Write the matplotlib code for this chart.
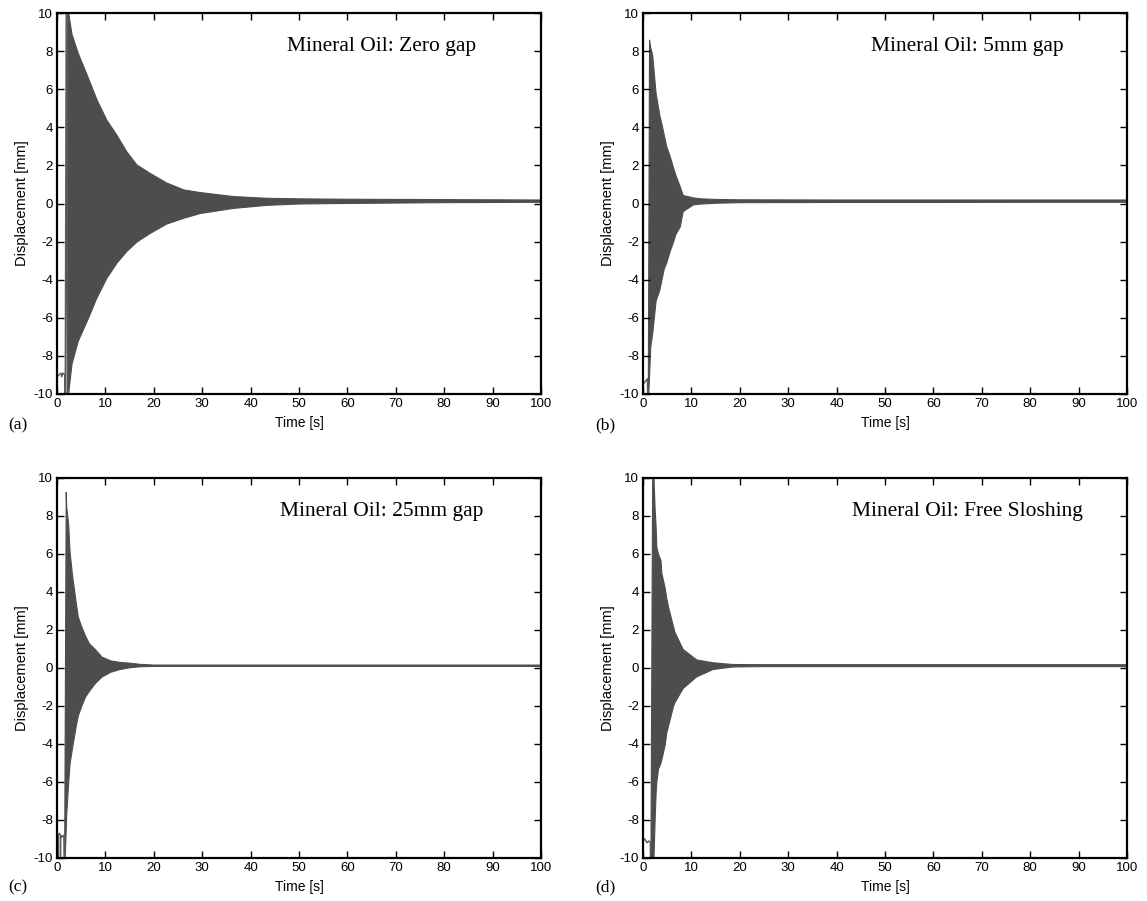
import matplotlib
matplotlib.use("Agg")
import matplotlib.pyplot as plt

plt.rcParams["axes.unicode_minus"] = False

# ---------------- data ----------------
titles = ["Mineral Oil: Zero gap", "Mineral Oil: 5mm gap",
          "Mineral Oil: 25mm gap", "Mineral Oil: Free Sloshing"]
panel_labels = ["(a)", "(b)", "(c)", "(d)"]
x_ticks = [0, 10, 20, 30, 40, 50, 60, 70, 80, 90, 100]
y_ticks = [-10, -8, -6, -4, -2, 0, 2, 4, 6, 8, 10]

# (a) Zero gap: pre-release trace + first swings, then envelope of oscillation
a_trace_t = [0.0, 0.4, 0.8, 1.0, 1.2, 1.6, 1.7, 1.9, 2.1]
a_trace_y = [-9.1, -9.0, -8.9, -9.1, -8.9, -9.0, -10.5, 10.5, -10.5]
a_env_t = [2.1, 2.5, 3.0, 4.3, 6.4, 8.1, 10.2, 12.3, 14.3, 16.4, 19.2, 22.6, 26.1, 29.5,
           36.4, 43.3, 50.0, 60.0, 70.0, 80.0, 90.0, 100.0]
a_env_up = [10.5, 9.7, 8.9, 7.9, 6.6, 5.5, 4.4, 3.6, 2.75, 2.05, 1.6, 1.1, 0.74, 0.6,
            0.39, 0.3, 0.27, 0.25, 0.24, 0.23, 0.22, 0.21]
a_env_lo = [-10.5, -9.5, -8.4, -7.2, -6.0, -4.96, -3.9, -3.1, -2.5, -2.0, -1.54, -1.05, -0.75, -0.5,
            -0.23, -0.07, 0.0, 0.03, 0.05, 0.07, 0.08, 0.09]

# (b) 5mm gap
b_trace_t = [0.0, 0.3, 0.6, 0.9, 1.0]
b_trace_y = [-9.5, -9.4, -9.3, -9.2, -10.5]
b_env_t = [1.0, 1.25, 1.5, 1.9, 2.6, 3.4, 3.8, 4.3, 4.8, 5.5, 6.2, 6.7, 7.6, 8.2, 10.3,
           12.0, 15.0, 20.0, 40.0, 60.0, 80.0, 100.0]
b_env_up = [-9.2, 8.6, 8.2, 7.8, 5.8, 4.6, 4.2, 3.6, 3.0, 2.5, 1.9, 1.5, 0.9, 0.45, 0.32,
            0.27, 0.24, 0.22, 0.21, 0.21, 0.21, 0.21]
b_env_lo = [-10.5, -9.0, -7.5, -6.8, -5.1, -4.5, -4.0, -3.4, -3.1, -2.5, -2.0, -1.6, -1.2, -0.4, -0.05,
            0.0, 0.04, 0.07, 0.08, 0.08, 0.09, 0.09]

# (c) 25mm gap
c_trace_t = [0.0, 0.2, 0.21, 0.25, 0.5, 0.7, 0.71, 0.75, 1.0, 1.4, 1.5]
c_trace_y = [-8.8, -8.8, -10.5, -8.8, -8.7, -8.8, -10.5, -8.8, -8.9, -8.8, -10.5]
c_env_t = [1.5, 1.8, 1.9, 2.3, 2.6, 3.1, 3.9, 4.3, 5.0, 5.8, 6.6, 7.8, 9.2, 11.0,
           13.0, 15.0, 17.0, 20.0, 40.0, 60.0, 80.0, 100.0]
c_env_up = [-8.8, 9.26, 8.5, 7.6, 6.1, 4.9, 3.4, 2.7, 2.2, 1.7, 1.3, 1.0, 0.6, 0.4,
            0.32, 0.28, 0.22, 0.18, 0.18, 0.18, 0.18, 0.18]
c_env_lo = [-10.5, -8.5, -7.7, -6.05, -5.0, -4.2, -3.0, -2.5, -2.0, -1.5, -1.2, -0.8, -0.45, -0.2,
            -0.05, 0.04, 0.09, 0.11, 0.11, 0.11, 0.11, 0.11]

# (d) Free sloshing
d_trace_t = [0.0, 0.4, 0.8, 1.2, 1.5, 1.55]
d_trace_y = [-9.1, -9.0, -9.2, -9.1, -9.2, -10.5]
d_env_t = [1.55, 1.9, 2.1, 2.4, 2.6, 2.75, 3.1, 3.6, 3.8, 4.5, 4.8, 5.2, 6.2, 6.5, 8.2, 11.0,
           14.4, 18.5, 25.0, 40.0, 60.0, 80.0, 100.0]
d_env_up = [-9.2, 10.5, 10.5, 8.4, 7.5, 6.4, 6.0, 5.7, 5.0, 4.2, 3.7, 3.2, 2.2, 1.9, 1.0, 0.45,
            0.3, 0.21, 0.2, 0.2, 0.2, 0.2, 0.2]
d_env_lo = [-10.5, -10.5, -10.5, -8.0, -6.6, -6.0, -5.3, -5.0, -4.8, -4.0, -3.4, -3.0, -2.0, -1.8, -1.05, -0.44,
            -0.05, 0.08, 0.1, 0.1, 0.1, 0.1, 0.1]

traces = [(a_trace_t, a_trace_y), (b_trace_t, b_trace_y),
          (c_trace_t, c_trace_y), (d_trace_t, d_trace_y)]
envelopes = [(a_env_t, a_env_up, a_env_lo), (b_env_t, b_env_up, b_env_lo),
             (c_env_t, c_env_up, c_env_lo), (d_env_t, d_env_up, d_env_lo)]

# ---------------- figure ----------------
W, H = 1147, 901
fig = plt.figure(figsize=(W / 100, H / 100), dpi=100)

# axes boxes in pixels: left, top, right, bottom
boxes = [(57, 13, 541, 394), (643, 13, 1127, 394),
         (57, 478, 541, 858), (643, 478, 1127, 858)]
label_pos = [(8, 425), (595, 425), (8, 887), (595, 887)]

sig_color = "#4d4d4d"
sans = ["Liberation Sans", "DejaVu Sans"]
serif = ["Liberation Serif", "DejaVu Serif"]

for i in range(4):
    l, t, r, b = boxes[i]
    ax = fig.add_axes([l / W, 1 - b / H, (r - l) / W, (b - t) / H])
    et, eu, el = envelopes[i]
    ax.fill_between(et, el, eu, color=sig_color, linewidth=0.8, edgecolor=sig_color)
    tt, ty = traces[i]
    ax.plot(tt, ty, color="#5a5a5a", linewidth=1.0)
    ax.set_xlim(0, 100)
    ax.set_ylim(-10, 10)
    ax.set_xticks(x_ticks)
    ax.set_yticks(y_ticks)
    ax.tick_params(direction="in", top=True, right=True, length=5, width=1,
                   labelsize=9.5, pad=3)
    for lab in ax.get_xticklabels() + ax.get_yticklabels():
        lab.set_family(sans)
    for s in ax.spines.values():
        s.set_linewidth(1.6)
    ax.set_xlabel("Time [s]", fontsize=10, family=sans, labelpad=4)
    ax.set_ylabel("Displacement [mm]", fontsize=10.5, family=sans, labelpad=3)
    ax.text(67, 8.25, titles[i], fontsize=15.5, family=serif,
            ha="center", va="center")
    lx, ly = label_pos[i]
    fig.text(lx / W, 1 - ly / H, panel_labels[i], fontsize=12.5, family=serif,
             ha="left", va="center")

fig.savefig("out.png", dpi=100)
